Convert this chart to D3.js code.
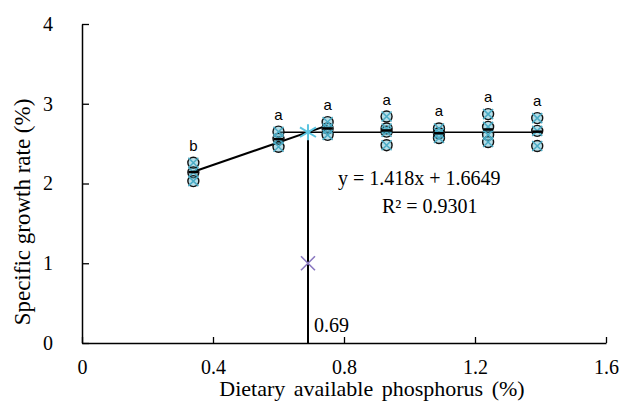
<!DOCTYPE html>
<html><head><meta charset="utf-8">
<script src="https://cdn.jsdelivr.net/npm/d3@7"></script>
<style>body{margin:0;background:#fff}svg{display:block}
.serif{font-family:"Liberation Serif","Times New Roman",serif}
.sans{font-family:"Liberation Sans",Arial,sans-serif}</style>
</head><body><svg id="c" width="622" height="401"></svg>
<script>
const levels = [0.34, 0.60, 0.75, 0.93, 1.09, 1.24, 1.39];
const replicates = [
  [2.26, 2.14, 2.03],
  [2.65, 2.56, 2.46],
  [2.77, 2.69, 2.61],
  [2.84, 2.69, 2.65, 2.48],
  [2.69, 2.63, 2.57],
  [2.87, 2.71, 2.61, 2.52],
  [2.82, 2.66, 2.47]
];
const letters = ["b", "a", "a", "a", "a", "a", "a"];
const xTicks = [0, 0.4, 0.8, 1.2, 1.6];
const yTicks = [0, 1, 2, 3, 4];
const slope = 1.418, intercept = 1.6649;
const breakX = 0.69;
const lineStart = 0.34, lineEnd = 0.75;
const plateauStart = 0.60, plateauEnd = 1.39;
const markerY = 1.0;
const eqText = "y = 1.418x + 1.6649";
const r2Text = "R\u00B2 = 0.9301";
const xTitle = "Dietary available phosphorus (%)";
const yTitle = "Specific growth rate (%)";

const svg = d3.select("#c");
const x = d3.scaleLinear().domain([0, 1.6]).range([82, 606]);
const y = d3.scaleLinear().domain([0, 4]).range([343, 24]);
const cyan = "#4bacc6";

// axes
const xAxis = d3.axisBottom(x).tickValues(xTicks).tickSizeInner(-6).tickSizeOuter(0).tickFormat(d => d === 0 ? "0" : d3.format(".1f")(d));
const gx = svg.append("g").attr("transform", `translate(0,${y(0)})`).call(xAxis);
gx.attr("font-family", null);
gx.select(".domain").attr("stroke", "#000").attr("stroke-width", 1.5);
gx.selectAll(".tick line").attr("stroke", "#000").attr("stroke-width", 1.3);
gx.selectAll(".tick text").attr("class", "serif").attr("font-size", 20).attr("fill", "#000").attr("dy", "1.05em").attr("y", 10);

const yAxis = d3.axisLeft(y).tickValues(yTicks).tickSizeInner(-7).tickSizeOuter(0).tickFormat(d3.format("d"));
const gy = svg.append("g").attr("transform", `translate(${x(0)},0)`).call(yAxis);
gy.attr("font-family", null);
gy.select(".domain").attr("stroke", "#000").attr("stroke-width", 1.5);
gy.selectAll(".tick line").attr("stroke", "#000").attr("stroke-width", 1.3);
gy.selectAll(".tick text").attr("class", "serif").attr("font-size", 20).attr("fill", "#000").attr("x", -34).attr("text-anchor", "middle");

// titles
svg.append("text").attr("class", "serif").attr("x", 372).attr("y", 396).attr("text-anchor", "middle")
  .attr("font-size", 22).attr("word-spacing", 3).text(xTitle);
svg.append("text").attr("class", "serif").attr("transform", `translate(30,212) rotate(-90)`).attr("text-anchor", "middle")
  .attr("font-size", 23).text(yTitle);

// fitted lines
const f = v => slope * v + intercept;
const plateau = f(breakX);
svg.append("line").attr("x1", x(lineStart)).attr("y1", y(f(lineStart))).attr("x2", x(lineEnd)).attr("y2", y(f(lineEnd)))
  .attr("stroke", "#000").attr("stroke-width", 2);
svg.append("line").attr("x1", x(plateauStart)).attr("y1", y(plateau)).attr("x2", x(plateauEnd)).attr("y2", y(plateau))
  .attr("stroke", "#000").attr("stroke-width", 1.5);
svg.append("line").attr("x1", x(breakX)).attr("y1", y(plateau)).attr("x2", x(breakX)).attr("y2", y(0))
  .attr("stroke", "#000").attr("stroke-width", 2);

// points
const pts = [];
levels.forEach((lv, i) => replicates[i].forEach(v => pts.push({lv, v})));
const pg = svg.append("g");
pg.selectAll("circle").data(pts).join("circle")
  .attr("cx", d => x(d.lv)).attr("cy", d => y(d.v)).attr("r", 5.5)
  .attr("fill", cyan).attr("fill-opacity", 0.4).attr("stroke", "#111").attr("stroke-width", 1.4);
pts.forEach(d => {
  const cx = x(d.lv), cy = y(d.v), s = 5;
  pg.append("path").attr("d", `M${cx-s},${cy-s}L${cx+s},${cy+s}M${cx-s},${cy+s}L${cx+s},${cy-s}`)
    .attr("stroke", cyan).attr("stroke-width", 1.5);
});
// mean dashes
levels.forEach((lv, i) => {
  const m = d3.mean(replicates[i]);
  pg.append("line").attr("x1", x(lv) - 5).attr("x2", x(lv) + 5).attr("y1", y(m)).attr("y2", y(m))
    .attr("stroke", "#000").attr("stroke-width", 2.5);
});

// letters
svg.selectAll("text.sig").data(levels).join("text").attr("class", "sig sans")
  .attr("x", d => x(d)).attr("y", (d, i) => y(d3.max(replicates[i])) - 12)
  .attr("text-anchor", "middle").attr("font-size", 15)
  .text((d, i) => letters[i]);

// breakpoint star
const sx = x(breakX), sy = y(plateau), ss = 8;
svg.append("path").attr("d", `M${sx-ss},${sy-ss*0.6}L${sx+ss},${sy+ss*0.6}M${sx-ss},${sy+ss*0.6}L${sx+ss},${sy-ss*0.6}M${sx},${sy-ss}L${sx},${sy+ss}`)
  .attr("stroke", "#5bc4e0").attr("stroke-width", 2);
// purple x
const px = x(breakX), py = y(markerY), ps = 7;
svg.append("path").attr("d", `M${px-ps},${py-ps}L${px+ps},${py+ps}M${px-ps},${py+ps}L${px+ps},${py-ps}`)
  .attr("stroke", "#8a78c0").attr("stroke-width", 1.6);

// annotations
svg.append("text").attr("class", "serif").attr("x", x(breakX) + 6).attr("y", 332).attr("font-size", 20).text(breakX.toFixed(2));
svg.append("text").attr("class", "serif").attr("x", 338).attr("y", 185).attr("font-size", 20).text(eqText);
svg.append("text").attr("class", "serif").attr("x", 382).attr("y", 213).attr("font-size", 20).text(r2Text);
</script></body></html>
